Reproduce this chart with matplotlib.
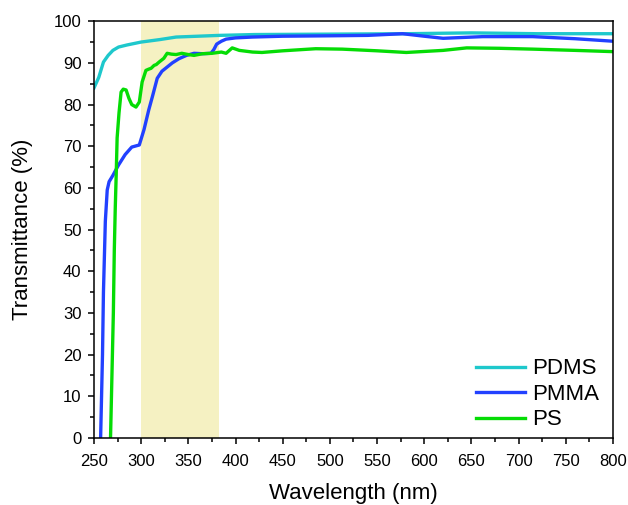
import matplotlib
matplotlib.use("Agg")
import matplotlib.pyplot as plt
from matplotlib.ticker import MultipleLocator

plt.rcParams['font.family'] = ['Liberation Sans', 'DejaVu Sans']

# transmittance spectra (wavelength in nm, T in %)
pdms_wl = [250, 255, 260, 265, 270, 276, 285, 300, 320, 337, 360, 383, 420, 500, 580, 650, 720, 800]
pdms_t = [84.0, 86.5, 90.2, 91.8, 93.0, 93.8, 94.3, 95.0, 95.6, 96.2, 96.4, 96.6, 96.8, 96.9, 97.0, 97.2, 97.0, 97.0]

pmma_wl = [257, 258, 259, 260, 262, 264, 266, 270, 276, 283, 290, 298, 303, 308, 312, 317, 322, 333, 340,
           348, 356, 365, 374, 377, 380, 385, 390, 400, 418, 450, 500, 540, 577, 600, 620, 662, 715, 760, 800]
pmma_t = [0.0, 10.0, 20.0, 35.0, 52.0, 59.5, 61.5, 63.0, 65.5, 68.0, 69.8, 70.3, 74.0, 78.7, 82.0, 86.3, 88.0, 90.0, 91.0,
          91.8, 92.3, 92.2, 92.3, 93.2, 94.5, 95.2, 95.7, 96.0, 96.2, 96.4, 96.5, 96.6, 97.0, 96.4, 95.9, 96.3, 96.3, 95.8, 95.2]

ps_wl = [267.5, 268.5, 269.5, 270.5, 271.5, 272.5, 273.5, 274.5, 276.5, 278.7, 281, 284, 287, 290, 294.5, 298,
         301, 305, 308, 310.5, 313.7, 316, 319, 324, 327.5, 332, 337, 343, 350, 356, 365, 375, 385, 390,
         396.5, 404, 418, 428, 450, 485, 513, 550, 581, 620, 645, 680, 715, 760, 800]
ps_t = [0.0, 10.0, 20.0, 30.0, 45.0, 55.0, 63.0, 72.0, 78.0, 83.0, 83.7, 83.5, 81.5, 80.0, 79.4, 80.6,
        85.4, 88.2, 88.5, 88.7, 89.4, 89.6, 90.2, 91.1, 92.3, 92.1, 92.0, 92.3, 92.0, 91.8, 92.2, 92.3, 92.6, 92.3,
        93.6, 93.0, 92.6, 92.5, 92.9, 93.4, 93.3, 92.9, 92.5, 93.0, 93.6, 93.5, 93.3, 93.0, 92.7]

band = (300, 383)

fig = plt.figure(figsize=(6.28, 5.05), dpi=100)
ax = fig.add_axes([0.1497, 0.1327, 0.8263, 0.8253])

ax.axvspan(band[0], band[1], color='#f5f1c2', lw=0, zorder=0)
ax.plot(pdms_wl, pdms_t, color='#1ec8cc', lw=2.4, label='PDMS')
ax.plot(pmma_wl, pmma_t, color='#2241ff', lw=2.4, label='PMMA')
ax.plot(ps_wl, ps_t, color='#05dc05', lw=2.4, label='PS')

ax.set_xlim(250, 800)
ax.set_ylim(0, 100)
ax.xaxis.set_major_locator(MultipleLocator(50))
ax.xaxis.set_minor_locator(MultipleLocator(25))
ax.yaxis.set_major_locator(MultipleLocator(10))
ax.yaxis.set_minor_locator(MultipleLocator(5))
ax.tick_params(which='major', direction='out', length=4.5, width=1.1, labelsize=12, top=False, right=False)
ax.tick_params(which='minor', direction='out', length=2.8, width=1.1, top=False, right=False)
ax.tick_params(axis='x', which='major', pad=7)
ax.tick_params(axis='y', which='major', pad=4.5)
for s in ax.spines.values():
    s.set_linewidth(1.1)

ax.set_xlabel('Wavelength (nm)', fontsize=16, labelpad=10)
ax.set_ylabel('Transmittance (%)', fontsize=16, labelpad=15)

leg = ax.legend(loc='lower right', bbox_to_anchor=(1.004, -0.019), frameon=False, fontsize=16,
                handlelength=2.2, handletextpad=0.35, labelspacing=0.2, borderaxespad=0.3)

fig.savefig('out.png', dpi=100)
